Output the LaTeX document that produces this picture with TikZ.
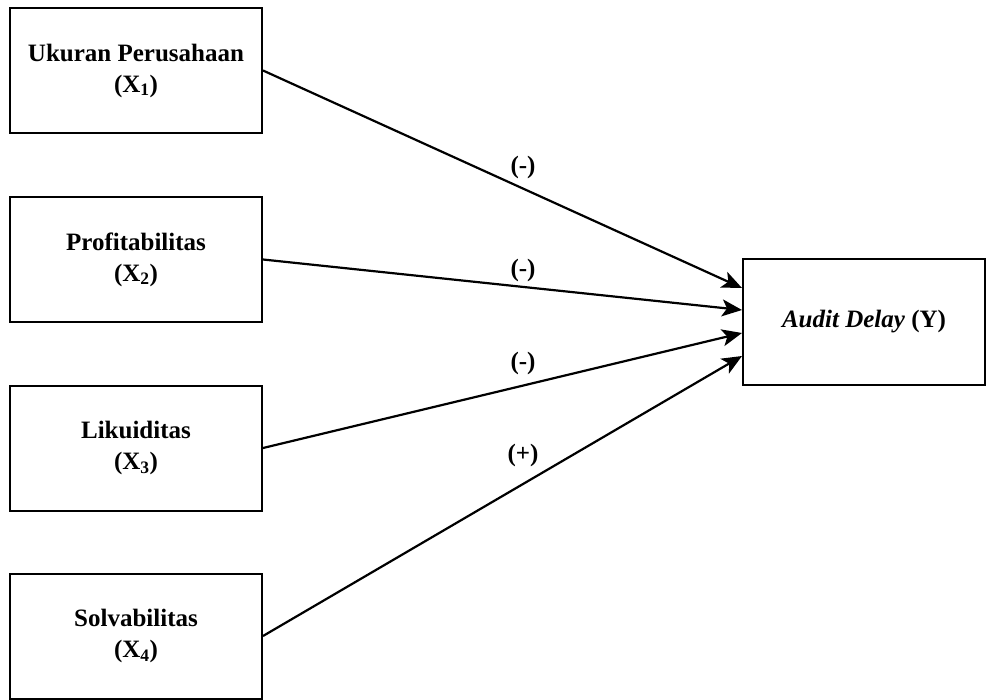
\documentclass[tikz,border=0pt]{standalone}
\usepackage{fontspec}
\setmainfont{Liberation Serif}
\usetikzlibrary{arrows.meta}
\begin{document}
\begin{tikzpicture}[x=1pt,y=-1pt,
  box/.style={draw,line width=2pt,minimum width=252pt,minimum height=125pt,inner sep=0pt,align=center,font=\fontsize{25}{31}\selectfont\bfseries},
  ybox/.style={draw,line width=2pt,minimum width=242pt,minimum height=126pt,inner sep=0pt,align=center,font=\fontsize{25}{31}\selectfont\bfseries},
  arr/.style={line width=2.2pt,-{Stealth[length=20pt,width=17pt,inset=5pt]}},
  lbl/.style={font=\fontsize{25}{29}\selectfont\bfseries}]
\useasboundingbox (0,0) rectangle (992,700);
\node[box] (x1) at (136,70.5) {Ukuran Perusahaan\\(X\textsubscript{1})};
\node[box] (x2) at (136,259.5) {Profitabilitas\\(X\textsubscript{2})};
\node[box] (x3) at (136,448) {Likuiditas\\(X\textsubscript{3})};
\node[box] (x4) at (136,636) {Solvabilitas\\(X\textsubscript{4})};
\node[ybox] (y) at (864,322) {\textit{Audit Delay} (Y)};
\draw[arr] (x1.east) -- ([yshift=34pt]y.west);
\draw[arr] (x2.east) -- ([yshift=12pt]y.west);
\draw[arr] (x3.east) -- ([yshift=-11pt]y.west);
\draw[arr] (x4.east) -- ([yshift=-34pt]y.west);
\node[lbl] (l1) at (523,167) {(-)};
\node[lbl] (l2) at (523,270) {(-)};
\node[lbl] (l3) at (523,363) {(-)};
\node[lbl] (l4) at (523,455) {(+)};
\end{tikzpicture}
\end{document}
